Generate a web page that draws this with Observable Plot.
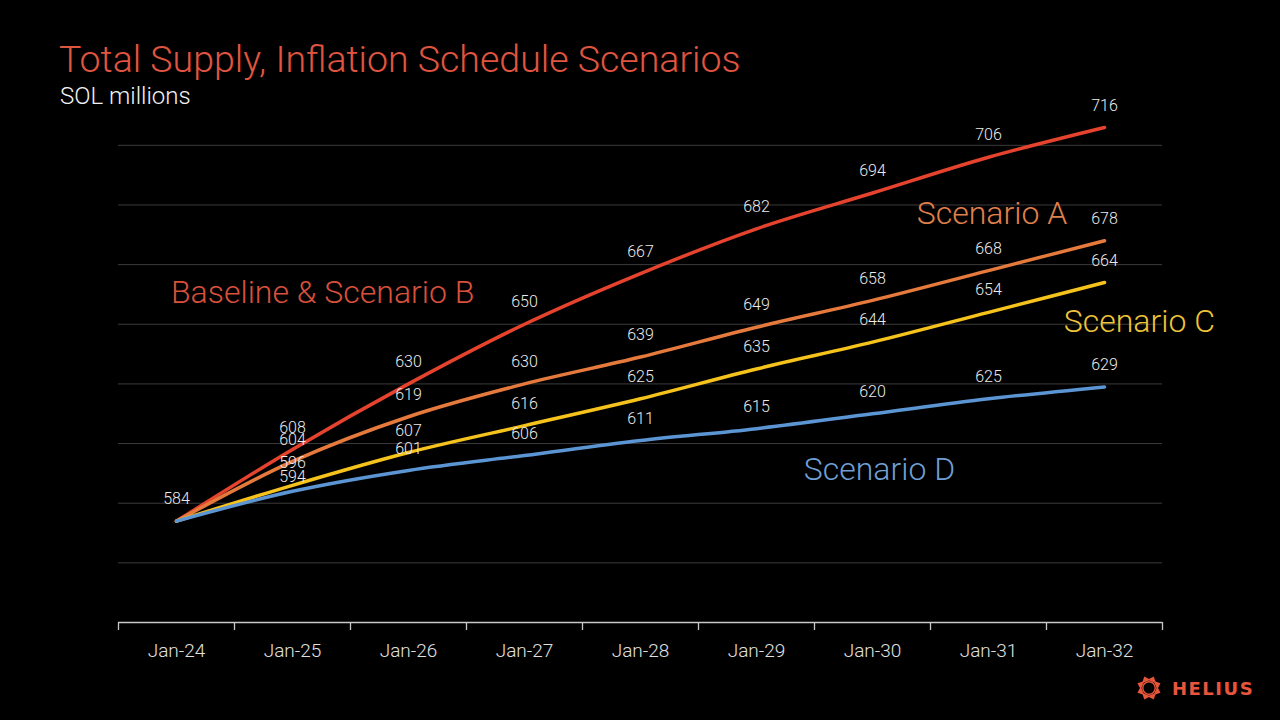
<!DOCTYPE html>
<html>
<head>
<meta charset="utf-8">
<script src="https://cdn.jsdelivr.net/npm/d3@7"></script>
<script src="https://cdn.jsdelivr.net/npm/@observablehq/plot@0.6"></script>
<style>
  html, body { margin: 0; padding: 0; background: #000; }
  #wrap { position: relative; width: 1280px; height: 720px; background: #000; overflow: hidden; font-family: Roboto, "Noto Sans", sans-serif; }
  #title { position: absolute; left: 59px; top: 41px; font-size: 37.5px; line-height: 37.5px; font-weight: 300; color: #e0553f; white-space: nowrap; }
  #subtitle { position: absolute; left: 60px; top: 84px; font-size: 24px; line-height: 24px; font-weight: 300; color: #f2f2f2; white-space: nowrap; }
  #chart { position: absolute; left: 0; top: 0; }
  #logo { position: absolute; left: 1136px; top: 675px; display: flex; align-items: center; }
  #logo span { font-family: "DejaVu Sans", sans-serif; font-weight: bold; font-size: 18px; letter-spacing: 1.5px; color: #e8553d; margin-left: 10px; }
</style>
</head>
<body>
<div id="wrap">
  <div id="chart"></div>
  <div id="title">Total Supply, Inflation Schedule Scenarios</div>
  <div id="subtitle">SOL millions</div>
  <div id="logo">
    <svg width="26" height="26" viewBox="-13 -13 26 26" id="icon"></svg>
    <span>HELIUS</span>
  </div>
</div>
<script>
// ---- data ----
const periods = ["Jan-24", "Jan-25", "Jan-26", "Jan-27", "Jan-28", "Jan-29", "Jan-30", "Jan-31", "Jan-32"];
const seriesNames = ["Baseline & Scenario B", "Scenario A", "Scenario C", "Scenario D"];
const baselineB = [584, 608, 630, 650, 667, 682, 694, 706, 716];
const scenarioA = [584, 604, 619, 630, 639, 649, 658, 668, 678];
const scenarioC = [584, 596, 607, 616, 625, 635, 644, 654, 664];
const scenarioD = [584, 594, 601, 606, 611, 615, 620, 625, 629];
const yTicks = [550, 570, 590, 610, 630, 650, 670, 690, 710];
// annotation anchors in data space (category index, value)
const annotations = [
  {text: "Baseline & Scenario B", i: 1.26, v: 660.4, series: 0},
  {text: "Scenario A", i: 7.03, v: 686.9, series: 1},
  {text: "Scenario C", i: 8.30, v: 651.0, series: 2},
  {text: "Scenario D", i: 6.06, v: 601.3, series: 3}
];

// ---- styles ----
const lineColors = ["#e5432d", "#e67a3c", "#f6c21c", "#5b95d3"];
const textColors = ["#d9503c", "#e0804a", "#eec43a", "#6e9fd4"];

const allValues = [baselineB, scenarioA, scenarioC, scenarioD];
const rows = allValues.flatMap((vals, s) => vals.map((v, i) => ({series: s, i, v})));
const labelRows = rows.filter(d => d.i > 0 || d.series === 0);
const normalLabels = labelRows.filter(d => !(d.series === 3 && d.i === 1));
const nudgedLabels = labelRows.filter(d => d.series === 3 && d.i === 1);

const plot = Plot.plot({
  width: 1280,
  height: 720,
  marginLeft: 118,
  marginRight: 118,
  marginTop: 115,
  marginBottom: 98,
  style: {background: "transparent", color: "#d9d9d9", fontFamily: "Roboto, 'Noto Sans', sans-serif"},
  x: {type: "linear", domain: [-0.5, periods.length - 0.5], axis: null, label: null},
  y: {domain: [550, 720], axis: null, label: null},
  marks: [
    Plot.ruleY(yTicks.slice(1), {stroke: "#3b3b3b", strokeWidth: 1}),
    Plot.ruleY([yTicks[0]], {stroke: "#c8c8c8", strokeWidth: 1.3}),
    Plot.axisX(d3.range(-0.5, periods.length, 1), {tickSize: 8, tickFormat: () => "", stroke: "#c8c8c8", strokeWidth: 1.3, label: null}),
    Plot.axisX(d3.range(periods.length), {tickSize: 0, tickPadding: 21, tickFormat: i => periods[i], fontSize: 19, fontWeight: 300, fill: "#e0e0e0", label: null}),
    ...allValues.map((vals, s) => Plot.line(rows.filter(d => d.series === s), {
      x: "i", y: "v", stroke: lineColors[s], strokeWidth: 3.5, curve: "monotone-x"
    })),
    Plot.text(normalLabels, {x: "i", y: "v", text: d => String(d.v), dy: -22, fill: "#ececec", fontSize: 16, fontWeight: 300}),
    Plot.text(nudgedLabels, {x: "i", y: "v", text: d => String(d.v), dy: -14, fill: "#ececec", fontSize: 16, fontWeight: 300}),
    ...annotations.map(a => Plot.text([a], {x: "i", y: "v", text: "text", fill: textColors[a.series], fontSize: 32, fontWeight: 300}))
  ]
});
document.getElementById("chart").appendChild(plot);

// logo icon
const icon = d3.select("#icon");
for (let k = 0; k < 8; k++) {
  const a = k * 45 + 22.5;
  icon.append("path")
    .attr("transform", `rotate(${a})`)
    .attr("d", "M-4.6,-7 L4.6,-7 L0,-12.5 Z")
    .attr("fill", "#e8553d");
}
icon.append("circle").attr("r", 6.2).attr("fill", "none").attr("stroke", "#e8553d").attr("stroke-width", 1.4);
</script>
</body>
</html>
